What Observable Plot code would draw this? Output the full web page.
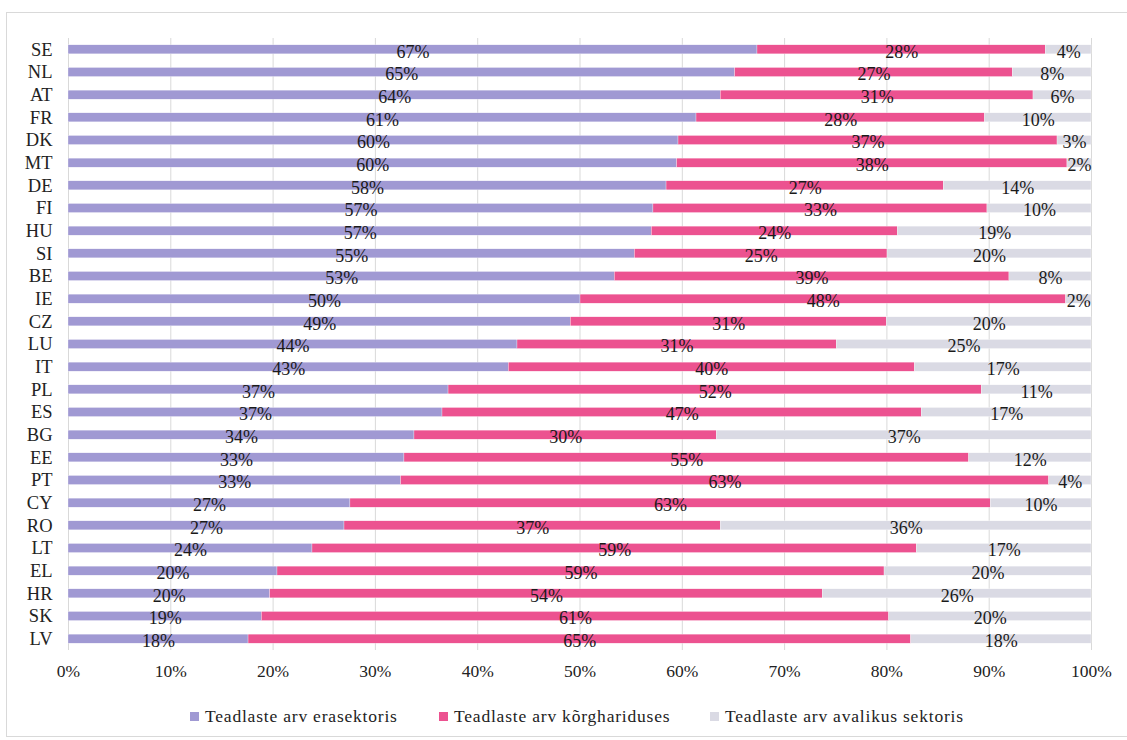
<!DOCTYPE html>
<html>
<head>
<meta charset="utf-8">
<script src="https://cdn.jsdelivr.net/npm/d3@7"></script>
<script src="https://cdn.jsdelivr.net/npm/@observablehq/plot@0.6"></script>
<style>
  html, body { margin: 0; padding: 0; background: #fff; }
  body { width: 1127px; height: 740px; position: relative; overflow: hidden; font-family: "Liberation Serif", "Times New Roman", serif; }
  #frame { position: absolute; left: 6px; top: 12px; width: 1140px; height: 725px; border: 1px solid #d9d9d9; box-sizing: border-box; pointer-events: none; }
  #chart { position: absolute; left: 0; top: 0; }
  #legend { position: absolute; top: 706px; left: 0; width: 1127px; height: 22px; font-size: 17.5px; color: #222; letter-spacing: 0.8px; }
  .item { position: absolute; top: 0; display: flex; align-items: center; white-space: nowrap; }
  .sw { width: 9px; height: 9px; margin-right: 6px; display: inline-block; }
</style>
</head>
<body>
<div id="chart"></div>
<div id="legend"></div>
<div id="frame"></div>
<script>
// Countries (top to bottom)
const countries = ["SE","NL","AT","FR","DK","MT","DE","FI","HU","SI","BE","IE","CZ","LU","IT","PL","ES","BG","EE","PT","CY","RO","LT","EL","HR","SK","LV"];
// Share of researchers (%) by sector
const business = [67.35,65.16,63.76,61.39,59.63,59.49,58.46,57.18,57.02,55.36,53.40,50.05,49.10,43.89,43.04,37.15,36.56,33.82,32.84,32.51,27.56,26.98,23.85,20.43,19.71,18.90,17.60];
const higherEd = [28.18,27.15,30.57,28.20,37.05,38.16,27.10,32.65,24.05,24.70,38.58,47.47,30.89,31.20,39.70,52.13,46.85,29.55,55.20,63.35,62.59,36.78,59.07,59.34,54.02,61.32,64.77];
const government = [4.47,7.69,5.67,10.41,3.32,2.35,14.44,10.17,18.93,19.94,8.02,2.48,20.01,24.91,17.26,10.72,16.59,36.63,11.96,4.14,9.85,36.24,17.08,20.23,26.27,19.78,17.63];
// Printed labels (%)
const businessLbl = [67,65,64,61,60,60,58,57,57,55,53,50,49,44,43,37,37,34,33,33,27,27,24,20,20,19,18];
const higherEdLbl = [28,27,31,28,37,38,27,33,24,25,39,48,31,31,40,52,47,30,55,63,63,37,59,59,54,61,65];
const governmentLbl = [4,8,6,10,3,2,14,10,19,20,8,2,20,25,17,11,17,37,12,4,10,36,17,20,26,20,18];

const seriesNames = ["Teadlaste arv erasektoris","Teadlaste arv kõrghariduses","Teadlaste arv avalikus sektoris"];
const seriesColors = ["#a099d3","#ec5290","#dadae4"];
const xTicks = [0,10,20,30,40,50,60,70,80,90,100];

const rows = [];
countries.forEach((c, i) => {
  [business, higherEd, government].forEach((arr, k) => {
    const lbl = [businessLbl, higherEdLbl, governmentLbl][k][i];
    rows.push({country: c, series: seriesNames[k], value: arr[i], label: lbl + "%"});
  });
});

const stackOpts = {x: "value", y: "country", z: "series", order: seriesNames};
const serif = "'Liberation Serif', 'Times New Roman', serif";

const chart = Plot.plot({
  width: 1127,
  height: 690,
  marginLeft: 68,
  marginRight: 36,
  marginTop: 38,
  marginBottom: 40,
  style: {fontFamily: serif, background: "transparent", color: "#222"},
  x: {domain: [0, 100], ticks: xTicks, tickFormat: d => d + "%", label: null},
  y: {domain: countries, paddingInner: 0.6, paddingOuter: 0.3, round: false, label: null},
  color: {domain: seriesNames, range: seriesColors},
  marks: [
    Plot.gridX(xTicks, {stroke: "#d9d9d9", strokeOpacity: 1, strokeWidth: 1}),
    Plot.barX(rows, Plot.stackX({...stackOpts, fill: "series", stroke: "#fff", strokeWidth: 0.3})),
    Plot.text(rows, Plot.stackX({...stackOpts, text: "label", textAnchor: "middle", dy: 2, fontSize: 18, fontFamily: serif, fill: "#1a1a1a"})),
    Plot.axisX(xTicks, {tickSize: 0, tickPadding: 14, fontSize: 17.5, fontFamily: serif, tickFormat: d => d + "%", label: null}),
    Plot.axisY({tickSize: 0, tickPadding: 16, fontSize: 18.5, fontFamily: serif, label: null})
  ]
});
document.getElementById("chart").appendChild(chart);

const legend = document.getElementById("legend");
const legendX = [190, 439, 710];
seriesNames.forEach((name, k) => {
  const it = document.createElement("div");
  it.className = "item";
  it.style.left = legendX[k] + "px";
  it.innerHTML = `<span class="sw" style="background:${seriesColors[k]}"></span><span>${name}</span>`;
  legend.appendChild(it);
});
</script>
</body>
</html>
